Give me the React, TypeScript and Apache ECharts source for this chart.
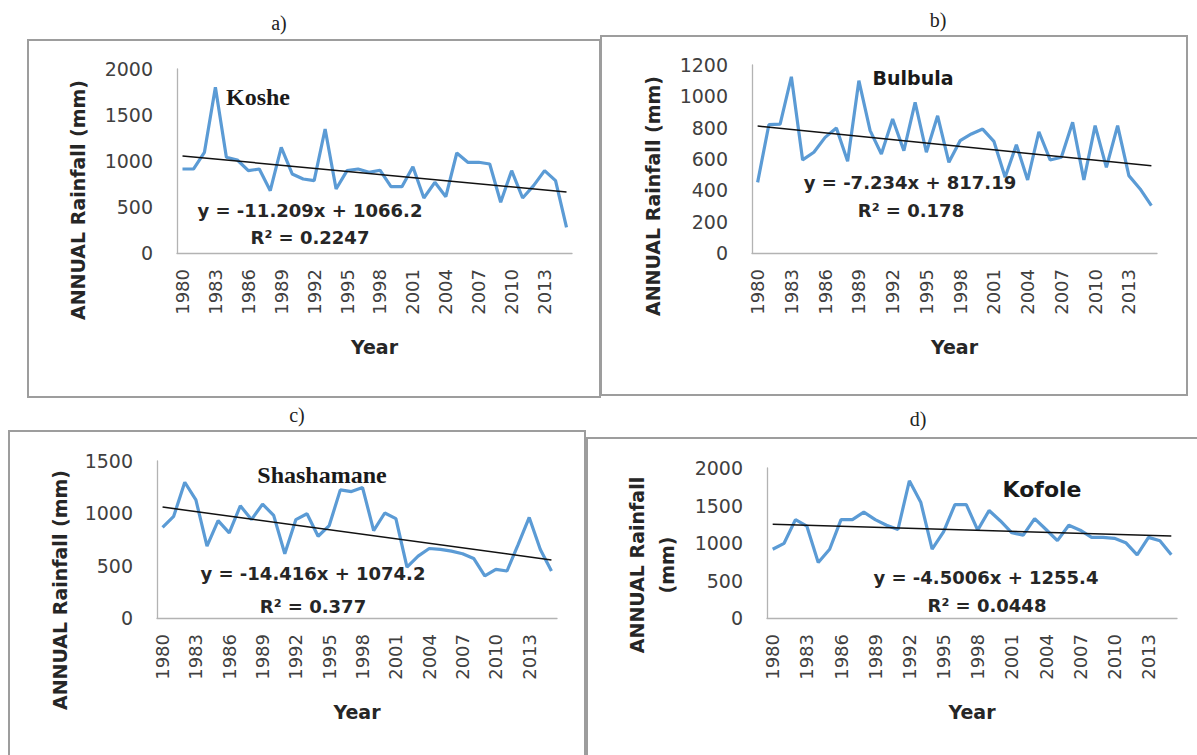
import React, { useEffect, useRef } from "react";
import * as echarts from "echarts";

const years: string[] = Array.from({ length: 36 }, (_, i) => String(1980 + i));

const koshe = [913, 913, 1095, 1801, 1040, 1011, 895, 913, 677, 1149, 859, 804, 786, 1348, 696, 895, 913, 877, 900, 721, 721, 938, 598, 768, 612, 1087, 986, 986, 967, 551, 895, 598, 732, 895, 786, 279];
const bulbula = [451, 819, 823, 1125, 594, 643, 738, 798, 585, 1100, 781, 632, 855, 653, 962, 643, 876, 579, 717, 760, 791, 713, 483, 691, 466, 774, 594, 611, 834, 466, 813, 547, 813, 494, 409, 302];
const shashamane = [866, 971, 1297, 1129, 686, 930, 813, 1072, 940, 1088, 980, 614, 940, 996, 781, 883, 1224, 1208, 1246, 835, 1003, 949, 487, 591, 664, 655, 639, 614, 569, 402, 465, 449, 702, 961, 655, 449];
const kofole = [917, 996, 1312, 1224, 741, 917, 1312, 1312, 1412, 1312, 1237, 1180, 1829, 1544, 917, 1149, 1513, 1513, 1171, 1434, 1294, 1136, 1105, 1325, 1180, 1031, 1237, 1171, 1075, 1075, 1062, 1004, 842, 1075, 1031, 842];

// trend line values at first and last year (from printed equations)
const trendKoshe = [1055.0, 662.7];
const trendBulbula = [810.0, 556.8];
const trendShashamane = [1059.8, 555.2];
const trendKofole = [1250.9, 1093.4];

const yMax = [2000, 1200, 1500, 2000];
const yStep = [500, 200, 500, 500];

const panelLetters = ["a)", "b)", "c)", "d)"];
const stations = ["Koshe", "Bulbula", "Shashamane", "Kofole"];
const equations = ["y = -11.209x + 1066.2", "y = -7.234x + 817.19", "y = -14.416x + 1074.2", "y = -4.5006x + 1255.4"];
const r2Texts = ["R² = 0.2247", "R² = 0.178", "R² = 0.377", "R² = 0.0448"];
const yTitles = ["ANNUAL Rainfall (mm)", "ANNUAL Rainfall (mm)", "ANNUAL Rainfall (mm)", "ANNUAL Rainfall\n(mm)"];

const SANS = "'DejaVu Sans', sans-serif";
const SERIF = "'Liberation Serif', 'DejaVu Serif', serif";

export default function App() {
  const ref = useRef<HTMLDivElement>(null);
  useEffect(() => {
    if (!ref.current) return;
    const chart = echarts.init(ref.current, undefined, { renderer: "svg" });
    const seriesData = [koshe, bulbula, shashamane, kofole];
    const trends = [trendKoshe, trendBulbula, trendShashamane, trendKofole];
    const grids = [
      { left: 177, top: 69, width: 395, height: 184 },
      { left: 752, top: 65, width: 405, height: 188 },
      { left: 157, top: 461, width: 400, height: 157 },
      { left: 767, top: 468, width: 410, height: 150 },
    ];
    const borders = [
      { x: 28, y: 40, width: 572, height: 357 },
      { x: 601, y: 36, width: 586, height: 359 },
      { x: 9, y: 431, width: 576, height: 340 },
      { x: 587, y: 438, width: 640, height: 340 },
    ];
    const letterPos = [[279, 23], [938, 20], [297, 415], [918, 419]];
    const stationPos = [[258, 97], [913, 78], [322, 475], [1042, 489]];
    const stationFont = [
      `bold 24px ${SERIF}`,
      `bold 19px ${SANS}`,
      `bold 24px ${SERIF}`,
      `bold 22px ${SANS}`,
    ];
    const eqPos = [[310, 210], [910, 182], [313, 573], [986, 577]];
    const r2Pos = [[310, 237], [911, 210], [313, 606], [987, 605]];
    const yTitlePos = [[78, 200], [653, 196], [60, 590], [652, 565]];

    const axisLineStyle = { color: "#b3b3b3", width: 1.3 };
    const labelColor = "#404040";

    const graphic: any[] = [];
    for (let i = 0; i < 4; i++) {
      graphic.push({
        type: "rect",
        shape: borders[i],
        style: { fill: "none", stroke: "#9d9d9d", lineWidth: 2 },
        silent: true,
        z: 0,
      });
      graphic.push({
        type: "text",
        x: letterPos[i][0],
        y: letterPos[i][1],
        style: { text: panelLetters[i], font: `20px ${SERIF}`, fill: "#222", align: "center", verticalAlign: "middle" },
      });
      graphic.push({
        type: "text",
        x: stationPos[i][0],
        y: stationPos[i][1],
        z: 10,
        style: { text: stations[i], font: stationFont[i], fill: "#1a1a1a", align: "center", verticalAlign: "middle" },
      });
      graphic.push({
        type: "text",
        x: eqPos[i][0],
        y: eqPos[i][1],
        z: 10,
        style: { text: equations[i], font: `bold 18px ${SANS}`, fill: "#262626", align: "center", verticalAlign: "middle" },
      });
      graphic.push({
        type: "text",
        x: r2Pos[i][0],
        y: r2Pos[i][1],
        z: 10,
        style: { text: r2Texts[i], font: `bold 18px ${SANS}`, fill: "#262626", align: "center", verticalAlign: "middle" },
      });
      graphic.push({
        type: "text",
        x: yTitlePos[i][0],
        y: yTitlePos[i][1],
        rotation: Math.PI / 2,
        z: 10,
        style: {
          text: yTitles[i],
          font: `bold 19px ${SANS}`,
          fill: "#262626",
          align: "center",
          verticalAlign: "middle",
          lineHeight: 30,
        },
      });
    }

    const option: any = {
      animation: false,
      backgroundColor: "#ffffff",
      grid: grids.map((g) => ({ ...g, containLabel: false })),
      xAxis: grids.map((_, i) => ({
        type: "category",
        gridIndex: i,
        data: years,
        boundaryGap: true,
        axisLine: { show: true, lineStyle: axisLineStyle },
        axisTick: { show: false },
        axisLabel: {
          interval: 2,
          rotate: 90,
          margin: 16,
          color: labelColor,
          fontFamily: SANS,
          fontSize: 18,
        },
        splitLine: { show: false },
        name: "Year",
        nameLocation: "middle",
        nameGap: 84,
        nameTextStyle: { fontFamily: SANS, fontWeight: "bold", fontSize: 19, color: "#262626" },
      })),
      yAxis: grids.map((_, i) => ({
        type: "value",
        gridIndex: i,
        min: 0,
        max: yMax[i],
        interval: yStep[i],
        axisLine: { show: true, lineStyle: axisLineStyle },
        axisTick: { show: false },
        splitLine: { show: false },
        axisLabel: {
          margin: 24,
          color: labelColor,
          fontFamily: SANS,
          fontSize: 19,
          formatter: (v: number) => String(v),
        },
      })),
      series: [
        ...seriesData.map((d, i) => ({
          type: "line",
          name: stations[i],
          xAxisIndex: i,
          yAxisIndex: i,
          data: d,
          symbol: "none",
          lineStyle: { color: "#5b9bd5", width: 3.2 },
          z: 2,
        })),
        ...trends.map((t, i) => ({
          type: "line",
          name: stations[i] + " trend",
          xAxisIndex: i,
          yAxisIndex: i,
          data: [[0, t[0]], [35, t[1]]],
          symbol: "none",
          lineStyle: { color: "#111111", width: 1.5 },
          z: 3,
        })),
      ],
      graphic,
    };
    chart.setOption(option);
    return () => chart.dispose();
  }, []);
  return (
    <div
      ref={ref}
      style={{ position: "fixed", left: 0, top: 0, width: 1197, height: 755, background: "#fff" }}
    />
  );
}
